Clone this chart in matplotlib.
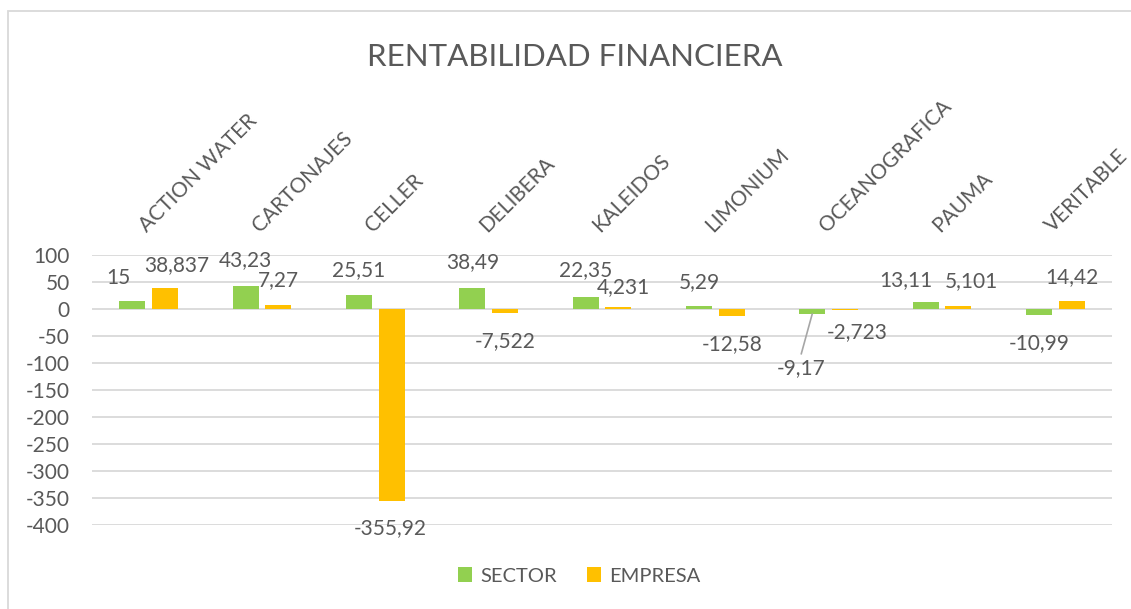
import numpy as np
import matplotlib
matplotlib.use("Agg")
import matplotlib.pyplot as plt
from matplotlib.patches import Rectangle

empresas = ["ACTION WATER", "CARTONAJES", "CELLER", "DELIBERA", "KALEIDOS",
            "LIMONIUM", "OCEANOGRAFICA", "PAUMA", "VERITABLE"]
sector = [15, 43.23, 25.51, 38.49, 22.35, 5.29, -9.17, 13.11, -10.99]
empresa = [38.837, 7.27, -355.92, -7.522, 4.231, -12.58, -2.723, 5.101, 14.42]
sector_txt = ["15", "43,23", "25,51", "38,49", "22,35", "5,29", "-9,17", "13,11", "-10,99"]
empresa_txt = ["38,837", "7,27", "-355,92", "-7,522", "4,231", "-12,58", "-2,723", "5,101", "14,42"]
yticks = [100, 50, 0, -50, -100, -150, -200, -250, -300, -350, -400]

# label nudges (pixels) relative to bar end, as placed by hand in the original
sector_off = [(-14, 23), (0, 26), (0, 25), (0, 26), (0, 27), (0, 24), (-11, -54), (-20, 22), (0, -28)]
empresa_off = [(12, 23), (0, 25), (-2, -27), (0, -28), (5, 20), (0, -28), (12, -22), (13, 25), (0, 24)]

GREEN = "#92D050"
ORANGE = "#FFC000"
TXT = "#595959"
GRID = "#D9D9D9"

plt.rcParams['font.family'] = ['Lato', 'DejaVu Sans']

W, H = 1131, 609
fig = plt.figure(figsize=(W / 100, H / 100), dpi=100)
fig.patch.set_facecolor("white")

# chart border (runs off the right and bottom edges)
fig.patches.append(Rectangle((8 / W, -0.05), 1.1, (H - 11) / H + 0.05, transform=fig.transFigure,
                             fill=False, edgecolor=GRID, linewidth=1.3))

left, right, top, bottom = 92, 1112, 255, 525
ax = fig.add_axes([left / W, (H - bottom) / H, (right - left) / W, (bottom - top) / H])

x = np.arange(len(empresas))
bw = 0.23
off = 0.145
ax.bar(x - off, sector, bw, color=GREEN, label="SECTOR", zorder=3)
ax.bar(x + off, empresa, bw, color=ORANGE, label="EMPRESA", zorder=3)

ax.set_xlim(-0.5, len(empresas) - 0.5)
ax.set_ylim(-400, 100)
ax.set_yticks(yticks)
ax.set_yticklabels([str(t) for t in yticks])
ax.set_xticks([])
ax.tick_params(axis="y", length=0, pad=16, labelsize=15, labelcolor=TXT)
ax.grid(axis="y", color=GRID, linewidth=1.3, zorder=0)
for s in ax.spines.values():
    s.set_visible(False)

# category names, rotated above the plot area
for i, name in enumerate(empresas):
    ax.annotate(name, xy=(i, 1), xycoords=("data", "axes fraction"),
                xytext=(-2, 22), textcoords="offset pixels",
                rotation=45, rotation_mode="anchor", ha="left", va="baseline",
                fontsize=15, color=TXT, annotation_clip=False)

# data labels
for vals, txts, offs, sh in [(sector, sector_txt, sector_off, -off),
                             (empresa, empresa_txt, empresa_off, off)]:
    for i, (v, t, (dx, dy)) in enumerate(zip(vals, txts, offs)):
        ax.annotate(t, xy=(i + sh, v), xytext=(dx, dy), textcoords="offset pixels",
                    ha="center", va="center", fontsize=15, color=TXT,
                    annotation_clip=False, zorder=4)

# leader line for the OCEANOGRAFICA sector label
ax.annotate("", xy=(6 - off, sector[6]), xytext=(-11, -40), textcoords="offset pixels",
            arrowprops=dict(arrowstyle="-", color="#A6A6A6", lw=1.2,
                            shrinkA=0, shrinkB=0))

fig.text(575 / W, 1 - 57 / H, "RENTABILIDAD FINANCIERA", ha="center", va="center",
         fontsize=22.5, color=TXT)

leg = fig.legend(loc="center", bbox_to_anchor=(579 / W, 1 - 576 / H), ncol=2,
                 frameon=False, fontsize=14.5, handlelength=0.7, handleheight=0.7,
                 handletextpad=0.4, columnspacing=1.5)
for t in leg.get_texts():
    t.set_color(TXT)

fig.savefig("out.png", dpi=100)
